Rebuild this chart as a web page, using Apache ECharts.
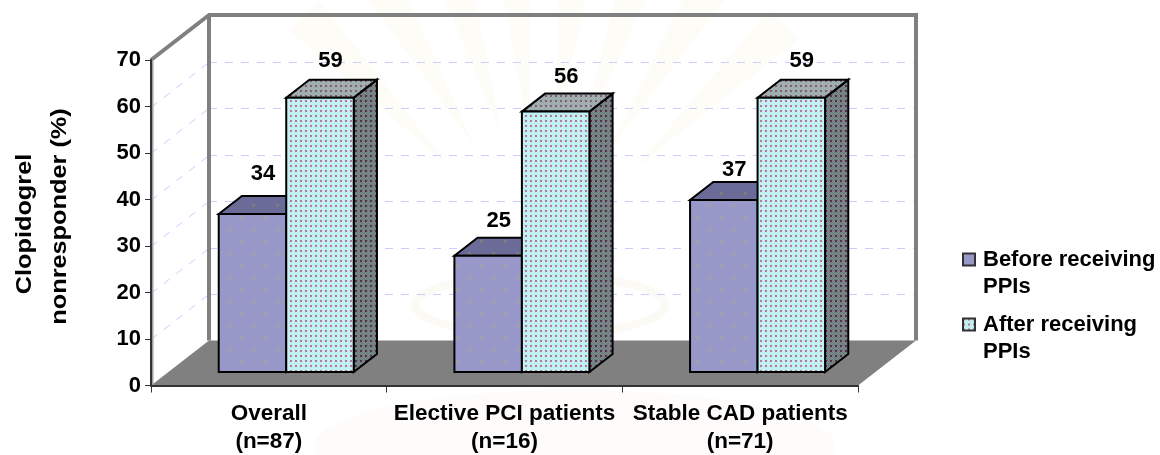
<!DOCTYPE html>
<html>
<head>
<meta charset="utf-8">
<style>
html,body{margin:0;padding:0;background:#fff}
#main{width:1160px;height:455px}
</style>
<script src="https://cdn.jsdelivr.net/npm/echarts@6/dist/echarts.min.js"></script>
</head>
<body>
<div id="main"></div>
<script>
var categories = ['Overall\n(n=87)', 'Elective PCI patients\n(n=16)', 'Stable CAD patients\n(n=71)']
var beforeValues = [34, 25, 37]
var afterValues = [59, 56, 59]
var yTicks = [0, 10, 20, 30, 40, 50, 60, 70]
var seriesNames = ['Before receiving PPIs', 'After receiving PPIs']
var yTitleLines = ['Clopidogrel', 'nonresponder (%)']
var rayAngles = [-44, -30, -17, -5, 7, 19, 32, 46]

// 3d look: back of the box is this far from the front plane
var depthX = 58
var depthY = -45
var barWidth = 67.5
// the value labels do not sit at one fixed height above the bars
var beforeLift = [40, 35, 30]
var afterLift = [37, 35, 37]

// little tiled fills for the bars, spots is a list of [x, y] in the tile
function tile(w, h, base, shade, dots, size, spots) {
	var c = document.createElement('canvas')
	c.width = w
	c.height = h
	var ctx = c.getContext('2d')
	ctx.fillStyle = base
	ctx.fillRect(0, 0, w, h)
	ctx.fillStyle = shade
	for (var i = 0; i < w; i++) {
		for (var j = 0; j < h; j++) {
			if ((i + j) % 2 == 0) ctx.fillRect(i, j, 1, 1)
		}
	}
	ctx.fillStyle = dots
	spots.forEach(function (p) {
		ctx.fillRect(p[0], p[1], size, size)
	})
	return {image: c, repeat: 'repeat'}
}
var bigSpots = [[0, 0], [12, 12]]
var smallSpots = [[0, 0]]
var beforeFill = {
	front: tile(24, 24, '#9c9ccc', '#9494c6', '#a2a2a2', 3, bigSpots),
	top: tile(24, 24, '#70709c', '#666694', '#7c7c7c', 3, bigSpots),
	side: tile(24, 24, '#58587a', '#505072', '#666', 3, bigSpots)
}
var afterFill = {
	front: tile(5, 5, '#c8f4f4', '#b8eeee', '#b8749c', 2, smallSpots),
	top: tile(5, 5, '#a4b4b4', '#98aaaa', '#8c5878', 2, smallSpots),
	side: tile(5, 5, '#7c8c8c', '#6c7c7c', '#5c2c4c', 2, smallSpots)
}

function poly(points, fill, stroke, width) {
	return {
		type: 'polygon',
		shape: {points: points},
		style: {fill: fill, stroke: stroke || 'none', lineWidth: width || 0}
	}
}
function line(p1, p2, stroke, width, dash) {
	return {
		type: 'line',
		shape: {x1: p1[0], y1: p1[1], x2: p2[0], y2: p2[1]},
		style: {stroke: stroke, lineWidth: width, lineDash: dash || null}
	}
}

// floor, walls and grid, only one item in this series
function renderBox(params, api) {
	var o = api.coord([0, 0])
	o[0] = params.coordSys.x
	var top = api.coord([0, 70])[1]
	var x2 = params.coordSys.x + params.coordSys.width
	var kids = []
	kids.push(poly([[o[0], o[1]], [x2, o[1]], [x2 + depthX, o[1] + depthY], [o[0] + depthX, o[1] + depthY]], '#808080'))
	for (var i = 1; i < yTicks.length - 1; i++) {
		var y = Math.round(api.coord([0, yTicks[i]])[1]) + 0.5
		kids.push(line([o[0], y], [o[0] + depthX, y + depthY], '#ccccff', 1, [8, 8]))
		kids.push(line([o[0] + depthX, y + depthY], [x2 + depthX, y + depthY], '#ccccff', 1, [8, 8]))
	}
	var wall = '#808080'
	kids.push(line([o[0] + depthX, o[1] + depthY], [o[0] + depthX, top + depthY], wall, 4))
	kids.push(line([o[0] + depthX - 1, top + depthY], [x2 + depthX + 2, top + depthY], wall, 4))
	kids.push(line([x2 + depthX, top + depthY], [x2 + depthX, o[1] + depthY], wall, 4))
	kids.push(line([o[0], top], [o[0] + depthX, top + depthY], wall, 4))
	kids.push(line([o[0] + 1.5, top], [o[0] + 1.5, o[1]], '#a0a0a0', 2))
	return {type: 'group', children: kids}
}

// one bar, side tells left or right of the category centre
function renderBar(side, fills, lift) {
	return function (params, api) {
		var cat = api.value(0)
		var val = api.value(1)
		var c = api.coord([cat, val])
		var b = api.coord([cat, 0])
		// front face of the bar sits 30% into the box
		var x0 = c[0] + depthX * 0.3 + (side < 0 ? -barWidth : 0)
		var x1 = x0 + barWidth
		var yt = c[1] + depthY * 0.3
		var yb = b[1] + depthY * 0.3
		var dx = depthX * 0.4
		var dy = depthY * 0.4
		return {
			type: 'group',
			children: [
				poly([[x1, yt], [x1 + dx, yt + dy], [x1 + dx, yb + dy], [x1, yb]], fills.side, '#000', 2),
				poly([[x0, yt], [x1, yt], [x1 + dx, yt + dy], [x0 + dx, yt + dy]], fills.top, '#000', 2),
				poly([[x0, yt], [x1, yt], [x1, yb], [x0, yb]], fills.front, '#000', 2),
				{
					type: 'text',
					x: x0 + barWidth / 2 + 10.5,
					y: yt - lift[cat],
					style: {
						text: String(val),
						fill: '#000',
						align: 'center',
						verticalAlign: 'middle',
						font: 'bold 22px "Liberation Sans", Arial, sans-serif'
					}
				}
			]
		}
	}
}

function toPairs(values) {
	return values.map(function (v, i) { return [i, v] })
}

// the washed out seal behind the chart
function watermark() {
	var items = []
	rayAngles.forEach(function (a) {
		var r = a * Math.PI / 180
		var s = 3.5 * Math.PI / 180
		items.push({
			type: 'polygon',
			z: -1,
			silent: true,
			shape: {points: [
				[540 + 130 * Math.sin(r), 260 - 130 * Math.cos(r)],
				[540 + 340 * Math.sin(r - s), 260 - 340 * Math.cos(r - s)],
				[540 + 340 * Math.sin(r + s), 260 - 340 * Math.cos(r + s)]
			]},
			style: {fill: '#fdfcf6'}
		})
	})
	items.push({
		type: 'ellipse',
		z: -1,
		silent: true,
		shape: {cx: 540, cy: 305, rx: 125, ry: 30},
		style: {fill: 'none', stroke: '#fbfaf4', lineWidth: 8}
	})
	items.push({
		type: 'ellipse',
		z: -1,
		silent: true,
		shape: {cx: 575, cy: 445, rx: 260, ry: 55},
		style: {fill: '#fefbfb'}
	})
	return items
}

function titleText(str, x, y) {
	return {
		type: 'text',
		x: x,
		y: y,
		rotation: Math.PI / 2,
		scaleX: 1.15,
		style: {
			text: str,
			align: 'center',
			verticalAlign: 'middle',
			fill: '#000',
			font: 'bold 22px "Liberation Sans", Arial, sans-serif'
		}
	}
}

var chart = echarts.init(document.getElementById('main'))
var textFont = {
	fontFamily: '"Liberation Sans", Arial, sans-serif',
	fontWeight: 'bold',
	color: '#000'
}
var option = {
	animation: false,
	backgroundColor: '#fff',
	grid: {left: 151, right: 302, top: 60, bottom: 69.5, outerBoundsMode: 'none'},
	graphic: watermark().concat([titleText(yTitleLines[0], 25, 224), titleText(yTitleLines[1], 60, 216.5)]),
	legend: {
		orient: 'vertical',
		left: 962,
		top: 219,
		padding: 0,
		itemWidth: 12,
		itemHeight: 12,
		itemGap: -16,
		icon: 'rect',
		selectedMode: false,
		data: [
			{name: seriesNames[0], itemStyle: {color: beforeFill.front, borderColor: '#333', borderWidth: 2}},
			{name: seriesNames[1], itemStyle: {color: afterFill.front, borderColor: '#333', borderWidth: 2}}
		],
		// blank first row, the box is centred on the text so it lands on the name row
		formatter: function (name) { return '\n' + name.replace(' PPIs', '\nPPIs') },
		textStyle: Object.assign({}, textFont, {fontSize: 22, lineHeight: 27, padding: [0, 0, 0, 3]})
	},
	xAxis: {
		type: 'category',
		data: categories,
		z: 10,
		axisLine: {lineStyle: {color: '#333', width: 2}},
		axisTick: {show: true, length: 7, lineStyle: {color: '#333'}},
		axisLabel: Object.assign({}, textFont, {fontSize: 22.5, lineHeight: 28, margin: 14, interval: 0})
	},
	yAxis: {
		type: 'value',
		min: 0,
		max: 70,
		interval: 10,
		z: 10,
		splitLine: {show: false},
		axisLine: {show: true, lineStyle: {color: '#333', width: 2}},
		axisTick: {show: true, length: 6, lineStyle: {color: '#333'}},
		axisLabel: Object.assign({}, textFont, {fontSize: 22, margin: 10, padding: [3, 0, 0, 0]})
	},
	series: [
		{type: 'custom', name: 'box', data: [[0, 0]], z: 1, silent: true, renderItem: renderBox},
		{type: 'custom', name: seriesNames[0], data: toPairs(beforeValues), z: 2, renderItem: renderBar(-1, beforeFill, beforeLift),
			itemStyle: {color: '#9c9cd0'}},
		{type: 'custom', name: seriesNames[1], data: toPairs(afterValues), z: 3, renderItem: renderBar(1, afterFill, afterLift),
			itemStyle: {color: '#c8f4f4'}}
	]
}
chart.setOption(option)
</script>
</body>
</html>
